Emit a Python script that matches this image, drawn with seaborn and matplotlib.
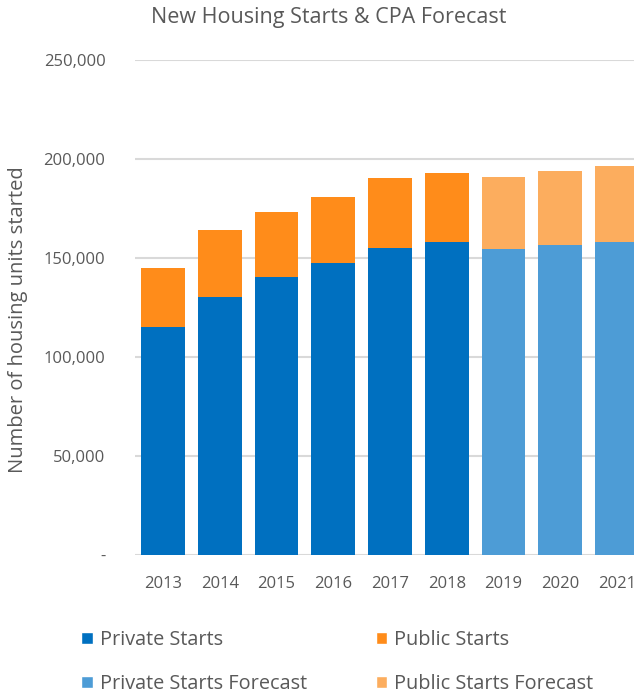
import matplotlib
matplotlib.use("Agg")
import matplotlib.pyplot as plt
from matplotlib.patches import Patch
from matplotlib.ticker import FuncFormatter
import seaborn as sns
import pandas as pd

# Housing starts by year (actuals 2013-2018, CPA forecast 2019-2021)
years = ["2013", "2014", "2015", "2016", "2017", "2018", "2019", "2020", "2021"]
private_starts = [115000, 130500, 140200, 147600, 155300, 157900, 154700, 156400, 157900]
public_starts = [30000, 33800, 32900, 33400, 34900, 35000, 36000, 37700, 38600]
is_forecast = [False, False, False, False, False, False, True, True, True]

title = "New Housing Starts & CPA Forecast"
y_label = "Number of housing units started"
legend_labels = ["Private Starts", "Public Starts", "Private Starts Forecast", "Public Starts Forecast"]

c_private = "#0070C0"
c_public = "#FF8C1A"
c_private_fc = "#4D9CD6"
c_public_fc = "#FCAD5E"
text_gray = "#595959"

df = pd.DataFrame({
    "year": years,
    "private": private_starts,
    "public": public_starts,
    "kind": ["Forecast" if f else "Actual" for f in is_forecast],
})
df["total"] = df["private"] + df["public"]

sns.set_theme(style="white")
plt.rcParams["font.family"] = ["Open Sans", "DejaVu Sans"]

fig = plt.figure(figsize=(6.34, 6.93), dpi=100)
ax = fig.add_axes([134.6 / 634, 138 / 693, 510.8 / 634, 495 / 693])

# Stacked bars: full totals (public colour) then private portion on top
sns.barplot(data=df, x="year", y="total", hue="kind", dodge=False, width=0.77,
            palette={"Actual": c_public, "Forecast": c_public_fc},
            order=years, hue_order=["Actual", "Forecast"], legend=False,
            saturation=1, ax=ax, zorder=3, linewidth=0)
sns.barplot(data=df, x="year", y="private", hue="kind", dodge=False, width=0.77,
            palette={"Actual": c_private, "Forecast": c_private_fc},
            order=years, hue_order=["Actual", "Forecast"], legend=False,
            saturation=1, ax=ax, zorder=3, linewidth=0)

ax.set_xlim(-0.5, len(years) - 0.5)
ax.set_ylim(0, 250000)
ax.set_yticks(range(0, 250001, 50000))
ax.yaxis.set_major_formatter(FuncFormatter(lambda v, p: "-" if v == 0 else f"{int(v):,}"))
ax.grid(axis="y", color="#D9D9D9", linewidth=1.5, zorder=0)
ax.set_axisbelow(True)
for s in ax.spines.values():
    s.set_visible(False)
ax.tick_params(axis="y", length=0, pad=21, labelsize=12, labelcolor=text_gray)
ax.tick_params(axis="x", length=0, pad=15, labelsize=12, labelcolor=text_gray)
ax.set_xlabel("")
ax.set_ylabel("")

fig.text(18 / 634, 1 - 320 / 693, y_label, rotation=90, ha="center", va="center",
         fontsize=14.5, color=text_gray)
fig.text(329 / 634, 1 - 17 / 693, title, ha="center", va="center",
         fontsize=15.5, color=text_gray)

# Column-major order so rows read: actual pair, then forecast pair
colors = [c_private, c_private_fc, c_public, c_public_fc]
labels = [legend_labels[0], legend_labels[2], legend_labels[1], legend_labels[3]]
handles = [Patch(facecolor=c) for c in colors]
fig.legend(handles, labels, ncol=2, loc="upper left",
           bbox_to_anchor=(81 / 634, 1 - 630 / 693), frameon=False,
           fontsize=14.3, labelcolor=text_gray, handlelength=0.6, handleheight=0.6,
           handletextpad=0.35, columnspacing=3.45, labelspacing=1.2, borderpad=0,
           borderaxespad=0)

fig.savefig("out.png", dpi=100)
